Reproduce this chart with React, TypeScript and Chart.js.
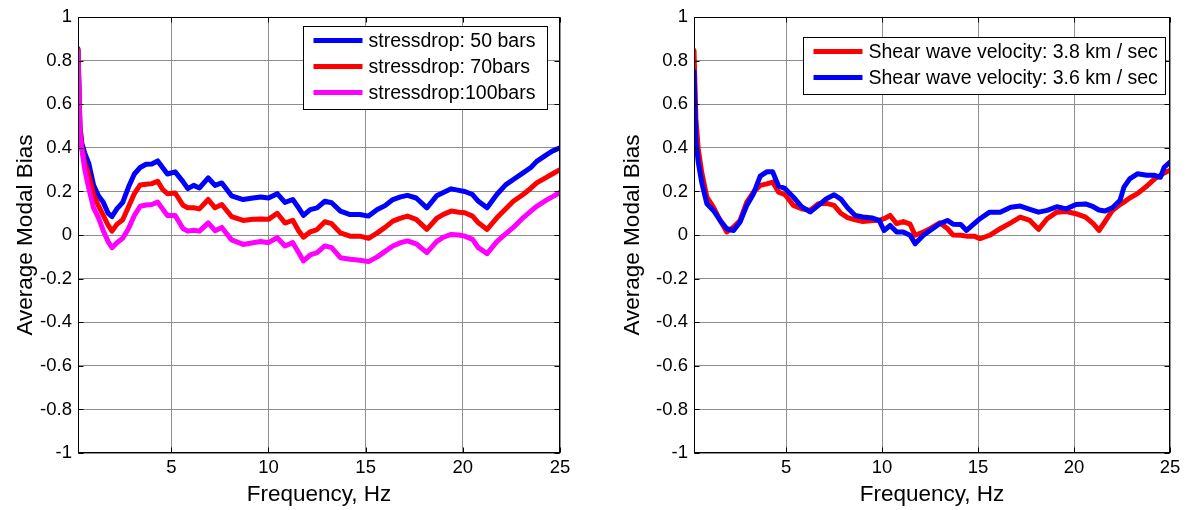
import React, { useEffect, useRef } from "react";
import { Chart, registerables } from "chart.js";

Chart.register(...registerables);

const FONT = "'Liberation Sans', Arial, Helvetica, sans-serif";
const GRID = "#8e8e8e";

// ---- Left panel: stress drop ----
const stressFreq = [
  0.2, 0.3, 0.4, 0.55, 0.75, 1.0, 1.25, 1.5, 1.75, 1.95,
  2.2, 2.5, 2.8, 3.1, 3.4, 3.7, 4.0, 4.3, 4.55, 4.8,
  5.2, 5.6, 5.85, 6.15, 6.45, 6.9, 7.25, 7.6, 8.1, 8.7,
  9.2, 9.6, 10.0, 10.45, 10.85, 11.25, 11.55, 11.8, 12.15, 12.5,
  12.9, 13.25, 13.7, 14.2, 14.7, 15.15, 15.6, 16.0, 16.4, 16.8,
  17.15, 17.6, 18.15, 18.65, 19.0, 19.4, 19.8, 20.1, 20.5, 20.8,
  21.25, 21.75, 22.2, 22.6, 23.1, 23.5, 23.8, 24.3, 24.6, 25.0,
];
const stress50 = [
  0.855, 0.5, 0.42, 0.375, 0.33, 0.23, 0.18, 0.15, 0.1, 0.085,
  0.12, 0.15, 0.22, 0.28, 0.31, 0.325, 0.326, 0.34, 0.31, 0.28,
  0.29, 0.245, 0.213, 0.228, 0.216, 0.262, 0.228, 0.239, 0.18, 0.163,
  0.17, 0.175, 0.17, 0.19, 0.15, 0.163, 0.125, 0.09, 0.117, 0.125,
  0.155, 0.148, 0.11, 0.094, 0.094, 0.087, 0.117, 0.135, 0.163, 0.175,
  0.182, 0.17, 0.125, 0.18, 0.195, 0.212, 0.205, 0.2, 0.186, 0.155,
  0.125, 0.186, 0.23, 0.255, 0.285, 0.31, 0.338, 0.368, 0.385, 0.4,
];
const stress70 = [
  0.85, 0.49, 0.4, 0.33, 0.277, 0.186, 0.135, 0.09, 0.045, 0.018,
  0.049, 0.07, 0.13, 0.19, 0.23, 0.233, 0.236, 0.247, 0.21, 0.19,
  0.193, 0.137, 0.125, 0.125, 0.12, 0.163, 0.125, 0.14, 0.085, 0.067,
  0.072, 0.074, 0.072, 0.1, 0.055, 0.068, 0.02, -0.01, 0.015, 0.025,
  0.061, 0.052, 0.01, -0.005, -0.005, -0.015, 0.01, 0.035, 0.064, 0.078,
  0.087, 0.072, 0.026, 0.076, 0.095, 0.11, 0.105, 0.102, 0.087, 0.056,
  0.026, 0.079, 0.12, 0.155, 0.186, 0.215, 0.239, 0.265, 0.28, 0.3,
];
const stress100 = [
  0.84, 0.47, 0.39, 0.3, 0.216, 0.125, 0.08, 0.02, -0.03, -0.058,
  -0.035, -0.015, 0.03, 0.09, 0.132, 0.138, 0.14, 0.151, 0.12, 0.09,
  0.09, 0.03, 0.018, 0.022, 0.018, 0.056, 0.02, 0.035, -0.022, -0.043,
  -0.035, -0.03, -0.035, -0.012, -0.05, -0.035, -0.08, -0.119, -0.091, -0.081,
  -0.05, -0.058, -0.104, -0.111, -0.116, -0.122, -0.1, -0.075, -0.05, -0.035,
  -0.027, -0.04, -0.081, -0.03, -0.01, 0.003, 0.0, -0.005, -0.02, -0.058,
  -0.085, -0.03, 0.005, 0.035, 0.079, 0.11, 0.132, 0.16, 0.175, 0.195,
];
const stressLabels = ["stressdrop: 50 bars", "stressdrop: 70bars", "stressdrop:100bars"];

// ---- Right panel: shear wave velocity ----
const shearFreq = [
  0.2, 0.3, 0.42, 0.6, 0.87, 1.21, 1.56, 1.91, 2.26, 2.6,
  2.95, 3.3, 3.65, 3.99, 4.3, 4.6, 4.95, 5.38, 5.8, 6.25,
  6.68, 7.1, 7.5, 7.85, 8.2, 8.6, 9.0, 9.5, 9.85, 10.1,
  10.42, 10.76, 11.1, 11.46, 11.72, 12.15, 12.5, 13.0, 13.4, 13.7,
  14.1, 14.4, 14.8, 15.1, 15.6, 16.15, 16.7, 17.2, 17.7, 18.15,
  18.6, 19.1, 19.6, 20.1, 20.6, 21.0, 21.3, 21.6, 22.0, 22.4,
  22.6, 22.9, 23.3, 23.8, 24.2, 24.5, 24.7, 25.0,
];
const shear38 = [
  0.847, 0.533, 0.396, 0.289, 0.174, 0.128, 0.067, 0.014, 0.037, 0.067,
  0.151, 0.197, 0.228, 0.235, 0.243, 0.197, 0.185, 0.136, 0.121, 0.113,
  0.144, 0.145, 0.136, 0.1, 0.08, 0.07, 0.062, 0.067, 0.067, 0.075,
  0.09, 0.052, 0.062, 0.05, -0.001, 0.014, 0.029, 0.056, 0.03, 0.0,
  -0.001, -0.005, -0.005, -0.017, -0.001, 0.029, 0.056, 0.082, 0.067, 0.026,
  0.075, 0.105, 0.108, 0.098, 0.082, 0.052, 0.021, 0.06, 0.113, 0.14,
  0.151, 0.17, 0.19, 0.225, 0.258, 0.274, 0.285, 0.297,
];
const shear36 = [
  0.75, 0.427, 0.335, 0.243, 0.144, 0.113, 0.067, 0.029, 0.021, 0.06,
  0.136, 0.19, 0.27, 0.29, 0.29, 0.225, 0.213, 0.174, 0.13, 0.106,
  0.136, 0.167, 0.185, 0.165, 0.125, 0.09, 0.083, 0.078, 0.067, 0.021,
  0.044, 0.014, 0.014, -0.001, -0.04, -0.001, 0.021, 0.052, 0.067, 0.05,
  0.048, 0.021, 0.052, 0.075, 0.105, 0.105, 0.128, 0.133, 0.118, 0.105,
  0.113, 0.13, 0.12, 0.14, 0.143, 0.13, 0.115, 0.11, 0.125, 0.16,
  0.22, 0.258, 0.281, 0.274, 0.274, 0.265, 0.311, 0.335,
];
const shearLabels = ["Shear wave velocity: 3.8 km / sec", "Shear wave velocity: 3.6 km / sec"];

// ---- Shared axes ----
const xTickValues = [5, 10, 15, 20, 25];
const yTickValues = [-1, -0.8, -0.6, -0.4, -0.2, 0, 0.2, 0.4, 0.6, 0.8, 1];
const xTitle = "Frequency, Hz";
const yTitle = "Average Modal Bias";

type Series = { label: string; color: string; values: number[]; order: number };
type LegendBox = { rightInset: number; topInset: number; width: number; height: number };
type PanelSpec = {
  freq: number[];
  series: Series[];
  legendOrder: number[];
  yAxisWidth: number;
  padRight: number;
  yTitlePad: number;
  legend: LegendBox;
};

// Axes box with inward tick marks on all four sides
const framePlugin = {
  id: "frameBox",
  afterDraw(chart: any) {
    const { ctx, chartArea: a, scales } = chart;
    const L = 5;
    ctx.save();
    ctx.strokeStyle = "#000";
    ctx.lineWidth = 1;
    const left = Math.round(a.left) + 0.5;
    const top = Math.round(a.top) + 0.5;
    const right = Math.round(a.right) - 0.5;
    const bottom = Math.round(a.bottom) - 0.5;
    ctx.strokeRect(left, top, right - left, bottom - top);
    ctx.beginPath();
    for (const t of scales.x.ticks) {
      const px = Math.round(scales.x.getPixelForValue(t.value)) + 0.5;
      ctx.moveTo(px, bottom);
      ctx.lineTo(px, bottom - L);
      ctx.moveTo(px, top);
      ctx.lineTo(px, top + L);
    }
    for (const t of scales.y.ticks) {
      const py = Math.round(scales.y.getPixelForValue(t.value)) + 0.5;
      ctx.moveTo(left, py);
      ctx.lineTo(left + L, py);
      ctx.moveTo(right, py);
      ctx.lineTo(right - L, py);
    }
    ctx.stroke();
    ctx.restore();
  },
};

function legendPlugin(spec: PanelSpec) {
  return {
    id: "boxLegend",
    afterDraw(chart: any) {
      const { ctx, chartArea: a } = chart;
      const b = spec.legend;
      const x0 = Math.round(a.right - b.rightInset - b.width) + 0.5;
      const y0 = Math.round(a.top + b.topInset) + 0.5;
      ctx.save();
      ctx.fillStyle = "#fff";
      ctx.fillRect(x0, y0, b.width, b.height);
      ctx.strokeStyle = "#000";
      ctx.lineWidth = 1;
      ctx.strokeRect(x0, y0, b.width, b.height);
      ctx.font = `19.5px ${FONT}`;
      ctx.textBaseline = "middle";
      ctx.textAlign = "left";
      spec.legendOrder.forEach((si, row) => {
        const s = spec.series[si];
        const cy = y0 + 14 + row * 26;
        ctx.strokeStyle = s.color;
        ctx.lineWidth = 5;
        ctx.lineCap = "butt";
        ctx.beginPath();
        ctx.moveTo(x0 + 10, cy);
        ctx.lineTo(x0 + 59, cy);
        ctx.stroke();
        ctx.fillStyle = "#000";
        ctx.fillText(s.label, x0 + 65, cy + 1);
      });
      ctx.restore();
    },
  };
}

function makeConfig(spec: PanelSpec): any {
  return {
    type: "line",
    data: {
      datasets: spec.series.map((s) => ({
        label: s.label,
        data: spec.freq.map((f, i) => ({ x: f, y: s.values[i] })),
        borderColor: s.color,
        backgroundColor: s.color,
        borderWidth: 5,
        borderJoinStyle: "round",
        borderCapStyle: "round",
        pointRadius: 0,
        tension: 0,
        fill: false,
        order: s.order,
      })),
    },
    options: {
      responsive: false,
      animation: false,
      events: [],
      layout: { padding: { left: 0, top: 15, right: spec.padRight, bottom: 0 } },
      plugins: { legend: { display: false }, tooltip: { enabled: false } },
      scales: {
        x: {
          type: "linear",
          min: 0.2,
          max: 25,
          afterBuildTicks: (s: any) => {
            s.ticks = xTickValues.map((v) => ({ value: v }));
          },
          afterFit: (s: any) => {
            s.height = 57;
          },
          ticks: {
            color: "#000",
            font: { family: FONT, size: 18.5 },
            padding: 4,
            maxRotation: 0,
            autoSkip: false,
            callback: (v: any) => String(v),
          },
          grid: { color: GRID, lineWidth: 1, drawTicks: false },
          border: { display: false },
          title: {
            display: true,
            text: xTitle,
            color: "#000",
            font: { family: FONT, size: 22.5 },
            padding: { top: 0, bottom: 2 },
          },
        },
        y: {
          type: "linear",
          min: -1,
          max: 1,
          afterBuildTicks: (s: any) => {
            s.ticks = yTickValues.map((v) => ({ value: v }));
          },
          afterFit: (s: any) => {
            s.width = spec.yAxisWidth;
          },
          ticks: {
            color: "#000",
            font: { family: FONT, size: 18.5 },
            padding: 6,
            autoSkip: false,
            callback: (v: any) => String(Math.round(Number(v) * 10) / 10),
          },
          grid: { color: GRID, lineWidth: 1, drawTicks: false },
          border: { display: false },
          title: {
            display: true,
            text: yTitle,
            color: "#000",
            font: { family: FONT, size: 22.5 },
            padding: { top: spec.yTitlePad, bottom: 0 },
          },
        },
      },
    },
    plugins: [framePlugin, legendPlugin(spec)],
  };
}

const stressPanel: PanelSpec = {
  freq: stressFreq,
  series: [
    { label: stressLabels[0], color: "#0000ff", values: stress50, order: 2 },
    { label: stressLabels[1], color: "#ff0000", values: stress70, order: 1 },
    { label: stressLabels[2], color: "#ff00ff", values: stress100, order: 0 },
  ],
  legendOrder: [0, 1, 2],
  yAxisWidth: 78,
  padRight: 35,
  yTitlePad: 12,
  legend: { rightInset: 13, topInset: 9, width: 244, height: 83 },
};

const shearPanel: PanelSpec = {
  freq: shearFreq,
  series: [
    { label: shearLabels[0], color: "#ff0000", values: shear38, order: 1 },
    { label: shearLabels[1], color: "#0000ff", values: shear36, order: 0 },
  ],
  legendOrder: [0, 1],
  yAxisWidth: 99,
  padRight: 20,
  yTitlePad: 24,
  legend: { rightInset: 5, topInset: 20, width: 362, height: 57 },
};

function Panel({ spec, left }: { spec: PanelSpec; left: number }) {
  const ref = useRef<HTMLCanvasElement | null>(null);
  useEffect(() => {
    if (!ref.current) return;
    const chart = new Chart(ref.current, makeConfig(spec));
    return () => chart.destroy();
  }, [spec]);
  return (
    <canvas
      ref={ref}
      width={595}
      height={510}
      style={{ position: "absolute", left, top: 0, width: 595, height: 510 }}
    />
  );
}

export default function App() {
  return (
    <div
      style={{
        position: "absolute",
        left: 0,
        top: 0,
        width: 1190,
        height: 510,
        background: "#fff",
        overflow: "hidden",
      }}
    >
      <Panel spec={stressPanel} left={0} />
      <Panel spec={shearPanel} left={595} />
    </div>
  );
}
